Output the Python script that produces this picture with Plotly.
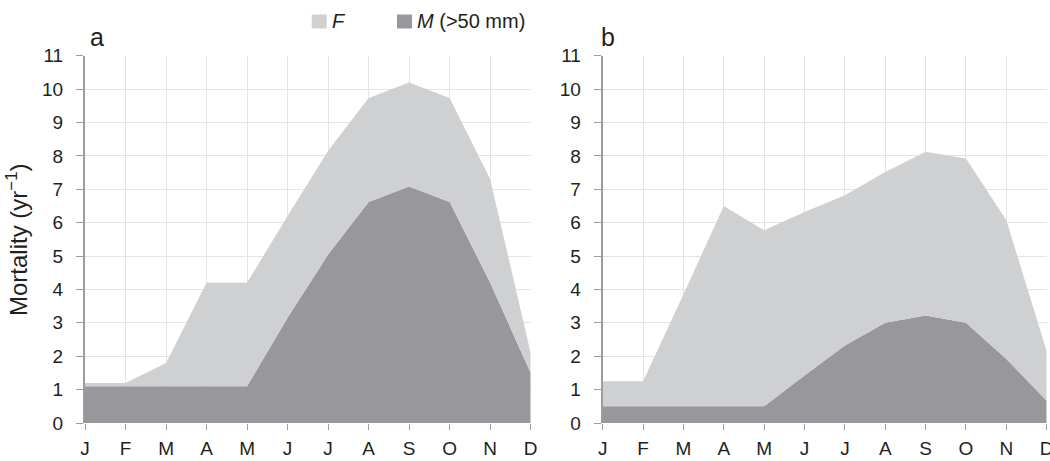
import plotly.graph_objects as go

# Monthly mortality components (yr^-1), stacked: M at the bottom, F on top
months = ["J", "F", "M", "A", "M", "J", "J", "A", "S", "O", "N", "D"]

m_a = [1.1, 1.1, 1.1, 1.1, 1.1, 3.15, 5.05, 6.62, 7.08, 6.62, 4.2, 1.5]
f_a = [0.1, 0.1, 0.7, 3.1, 3.1, 3.05, 3.1, 3.11, 3.12, 3.11, 3.1, 0.6]

m_b = [0.5, 0.5, 0.5, 0.5, 0.5, 1.42, 2.32, 3.0, 3.22, 3.0, 1.92, 0.67]
f_b = [0.75, 0.75, 3.35, 6.0, 5.27, 4.9, 4.5, 4.52, 4.9, 4.92, 4.15, 1.48]

y_ticks = list(range(0, 12))

F_COLOR = "#cfd0d2"
M_COLOR = "#98979c"
GRID = "#e4e4e4"
AXIS = "#9c9c9c"
TEXT = "#231f20"
FONT = "Liberation Sans, Arial, sans-serif"

W, H = 1050, 461
x_pos = list(range(len(months)))

fig = go.Figure()
for panel, (m_vals, f_vals) in enumerate([(m_a, f_a), (m_b, f_b)], start=1):
    xa = "x" if panel == 1 else "x2"
    ya = "y" if panel == 1 else "y2"
    fig.add_trace(go.Scatter(
        x=x_pos, y=m_vals, xaxis=xa, yaxis=ya, stackgroup=f"g{panel}",
        mode="none", fillcolor=M_COLOR, line=dict(width=0),
        name="M (>50 mm)", showlegend=False, hoverinfo="skip"))
    fig.add_trace(go.Scatter(
        x=x_pos, y=f_vals, xaxis=xa, yaxis=ya, stackgroup=f"g{panel}",
        mode="none", fillcolor=F_COLOR, line=dict(width=0),
        name="F", showlegend=False, hoverinfo="skip"))

y_dom = [(H - 423) / H, (H - 55.7) / H]

def xaxis_style(domain, anchor):
    return dict(
        domain=domain, anchor=anchor, range=[0, 11], automargin=False,
        tickmode="array", tickvals=x_pos, ticktext=months,
        showgrid=True, gridcolor=GRID, gridwidth=1,
        zeroline=False, showline=False,
        ticks="outside", ticklen=6, tickcolor=AXIS, tickwidth=1,
        ticklabelstandoff=2, ticklabeloverflow="allow",
        tickfont=dict(family=FONT, size=19, color=TEXT),
        fixedrange=True,
    )

def yaxis_style(anchor):
    return dict(
        domain=y_dom, anchor=anchor, range=[0, 11], automargin=False,
        tickmode="array", tickvals=y_ticks,
        showgrid=True, gridcolor=GRID, gridwidth=1,
        zeroline=False, showline=True, linecolor=AXIS, linewidth=2,
        ticks="outside", ticklen=7, tickcolor=AXIS, tickwidth=1,
        ticklabelstandoff=9,
        tickfont=dict(family=FONT, size=19, color=TEXT),
        fixedrange=True,
    )

fig.update_layout(
    width=W, height=H,
    margin=dict(l=0, r=0, t=0, b=0, autoexpand=False),
    paper_bgcolor="white", plot_bgcolor="white",
    showlegend=False,
    xaxis=xaxis_style([85 / W, 530.7 / W], "y"),
    yaxis=yaxis_style("x"),
    xaxis2=xaxis_style([602.7 / W, 1046.7 / W], "y2"),
    yaxis2=yaxis_style("x2"),
)

# Legend swatches and labels
for x0, color in [(311.7, F_COLOR), (397, M_COLOR)]:
    fig.add_shape(type="rect", xref="paper", yref="paper",
                  x0=x0 / W, x1=(x0 + 15) / W, y0=(H - 28.5) / H, y1=(H - 14.5) / H,
                  line=dict(width=0), fillcolor=color)

annos = [
    dict(text="<i>F</i>", x=330 / W, y=(H - 21.5) / H, xanchor="left", yanchor="middle", size=20),
    dict(text="<i>M</i> (>50 mm)", x=415 / W, y=(H - 21.5) / H, xanchor="left", yanchor="middle", size=20),
    dict(text="a", x=88 / W, y=(H - 37) / H, xanchor="left", yanchor="middle", size=25),
    dict(text="b", x=599 / W, y=(H - 37) / H, xanchor="left", yanchor="middle", size=25),
]
for a in annos:
    fig.add_annotation(text=a["text"], x=a["x"], y=a["y"], xref="paper", yref="paper",
                       xanchor=a["xanchor"], yanchor=a["yanchor"], showarrow=False,
                       font=dict(family=FONT, size=a["size"], color=TEXT))

fig.add_annotation(text="Mortality (yr<sup>−1</sup>)", x=17 / W, y=(H - 240) / H,
                   xref="paper", yref="paper", xanchor="center", yanchor="middle",
                   textangle=-90, showarrow=False,
                   font=dict(family=FONT, size=24, color=TEXT))

fig.write_html("out.html")
